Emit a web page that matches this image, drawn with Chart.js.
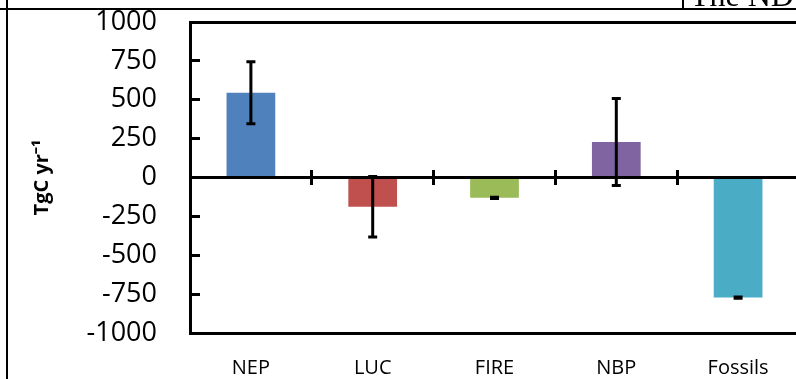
<!DOCTYPE html>
<html>
<head>
<meta charset="utf-8">
<script src="https://cdn.jsdelivr.net/npm/chart.js@4/dist/chart.umd.min.js"></script>
<style>
html,body{margin:0;padding:0;background:#fff;overflow:hidden;width:796px;height:379px;}
#wrap{position:relative;width:796px;height:379px;overflow:hidden;background:#fff;}
#c{position:absolute;left:0;top:0;}
.ln{position:absolute;background:#000;}
#hdr{position:absolute;left:690px;top:-21px;font-family:"Liberation Serif","Times New Roman",serif;font-size:32px;line-height:32px;white-space:nowrap;color:#000;}
</style>
</head>
<body>
<div id="wrap">
<canvas id="c" width="812" height="379"></canvas>
<div class="ln" style="left:0;top:8px;width:796px;height:2px"></div>
<div class="ln" style="left:6px;top:0;width:2px;height:379px"></div>
<div class="ln" style="left:682px;top:0;width:2px;height:9px"></div>
<div id="hdr">The ND</div>
</div>
<script>
const categories = ['NEP', 'LUC', 'FIRE', 'NBP', 'Fossils'];
const values = [545, -188, -131, 228, -772];
const errors = [200, 195, 4, 280, 4];
const barColors = ['#4F81BD', '#C0504D', '#9BBB59', '#8064A2', '#4BACC6'];
const yTicks = [-1000, -750, -500, -250, 0, 250, 500, 750, 1000];
const yTitle = 'TgC yr\u207B\u00B9';

const errorBars = {
  id: 'errorBars',
  afterDatasetsDraw(chart) {
    const meta = chart.getDatasetMeta(0);
    const ys = chart.scales.y;
    const ctx = chart.ctx;
    ctx.save();
    ctx.strokeStyle = '#000';
    ctx.lineWidth = 3;
    meta.data.forEach((bar, i) => {
      const v = values[i], e = errors[i];
      const top = ys.getPixelForValue(v + e);
      const bot = ys.getPixelForValue(v - e);
      const x = bar.x;
      ctx.beginPath();
      ctx.moveTo(x, top); ctx.lineTo(x, bot);
      ctx.moveTo(x - 4.5, top); ctx.lineTo(x + 4.5, top);
      ctx.moveTo(x - 4.5, bot); ctx.lineTo(x + 4.5, bot);
      ctx.stroke();
    });
    ctx.restore();
  }
};

function noPad(s) { s.paddingTop = 0; s.paddingBottom = 0; s.paddingLeft = 0; s.paddingRight = 0; }

new Chart(document.getElementById('c'), {
  type: 'bar',
  data: {
    labels: categories,
    datasets: [{
      data: values,
      backgroundColor: barColors,
      borderWidth: 0,
      barPercentage: 0.4,
      categoryPercentage: 1.0
    }]
  },
  options: {
    responsive: false,
    animation: false,
    layout: { padding: { left: 0, top: 22, right: 13, bottom: 0 } },
    plugins: { legend: { display: false }, tooltip: { enabled: false } },
    scales: {
      x: {
        type: 'category',
        position: 'bottom',
        offset: true,
        grid: { display: false, drawTicks: false, offset: true },
        border: { display: true, color: '#000', width: 3 },
        ticks: { color: '#000', font: { family: 'Open Sans', size: 20 }, padding: 23, maxRotation: 0, autoSkip: false },
        afterFit(s) { s.height = 46; noPad(s); }
      },
      xTop: {
        axis: 'x',
        type: 'category',
        position: 'top',
        offset: true,
        grid: { display: false, drawTicks: false },
        border: { display: true, color: '#000', width: 3 },
        ticks: { display: false },
        afterFit(s) { s.height = 0; noPad(s); }
      },
      xZero: {
        axis: 'x',
        type: 'category',
        position: { y: 0 },
        offset: true,
        grid: { display: true, drawOnChartArea: false, drawTicks: true, tickLength: 6, offset: true, color: '#000', lineWidth: 3, z: 1 },
        border: { display: true, color: '#000', width: 3, z: 1 },
        ticks: { display: false },
        afterFit(s) { noPad(s); }
      },
      xZero2: {
        axis: 'x',
        type: 'category',
        position: { y: 0 },
        offset: true,
        grid: { display: true, drawOnChartArea: false, drawTicks: true, tickLength: -8, offset: true, color: '#000', lineWidth: 3, z: 1 },
        border: { display: false, z: 1 },
        ticks: { display: false },
        afterFit(s) { noPad(s); }
      },
      y: {
        type: 'linear',
        position: 'left',
        min: -1000,
        max: 1000,
        afterBuildTicks(s) { s.ticks = yTicks.map(v => ({ value: v })); },
        grid: { display: true, drawOnChartArea: false, drawTicks: true, tickLength: -10, color: '#000', lineWidth: 3 },
        border: { display: true, color: '#000', width: 3 },
        ticks: { color: '#000', font: { family: 'Open Sans', size: 27 }, padding: 43, callback: v => String(v) },
        title: {
          display: true,
          text: yTitle,
          color: '#000',
          font: { family: 'Open Sans', size: 20, weight: 'bold' },
          padding: { top: 30, bottom: 0 }
        },
        afterFit(s) { s.width = 190; noPad(s); }
      }
    }
  },
  plugins: [errorBars]
});
</script>
</body>
</html>
